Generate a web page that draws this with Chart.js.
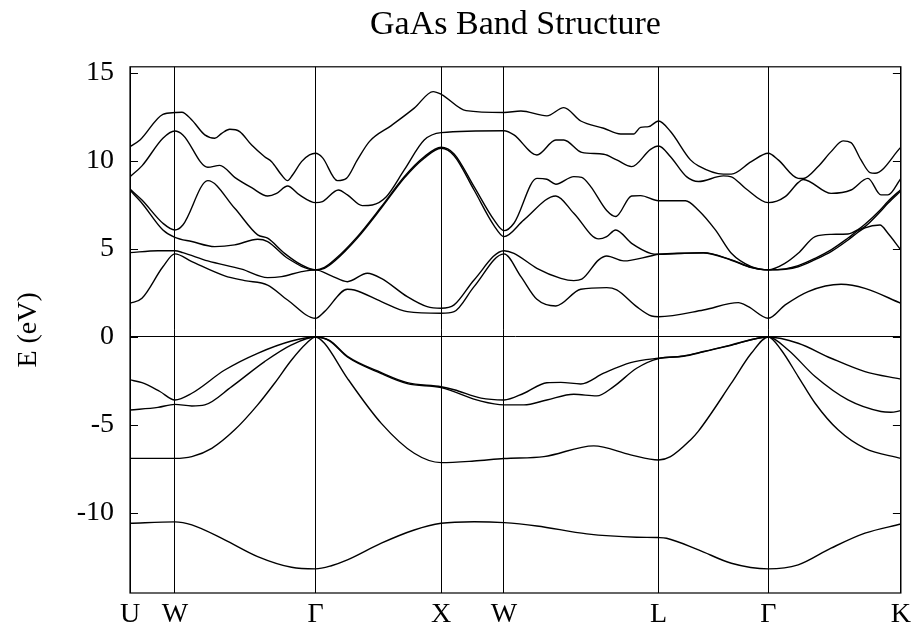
<!DOCTYPE html>
<html>
<head>
<meta charset="utf-8">
<title>GaAs Band Structure</title>
<script src="https://cdn.jsdelivr.net/npm/chart.js@4.4.1/dist/chart.umd.min.js"></script>
<style>
  html, body { margin: 0; padding: 0; background: #fff; }
  #wrap { width: 916px; height: 634px; }
</style>
</head>
<body>
<div id="wrap"><canvas id="bands" width="916" height="634"></canvas></div>
<script>
// high-symmetry points along the path (path length, arb. units)
const kTicks = [0, 45, 186, 312, 375, 530, 640, 773];
const kLabels = ['U', 'W', 'Γ', 'X', 'W', 'L', 'Γ', 'K'];
const eTicks = [-10, -5, 0, 5, 10, 15];

// bands, sorted by energy index: [k, E (eV)]
const band1 = [[0,-10.59],[45,-10.51],[62,-10.68],[95,-11.53],[128,-12.48],[162,-13.09],[186,-13.18],[202,-13.0],[218,-12.67],[252,-11.72],[285,-10.97],[312,-10.59],[345,-10.5],[375,-10.55],[408,-10.74],[458,-11.19],[508,-11.38],[530,-11.4],[538,-11.44],[570,-12.1],[603,-12.86],[640,-13.18],[670,-12.95],[703,-12.0],[737,-11.15],[773,-10.63]];
const band2 = [[0,-6.9],[45,-6.9],[62,-6.8],[82,-6.33],[105,-5.28],[128,-3.86],[145,-2.63],[162,-1.31],[177,-0.36],[186,0],[195,-0.36],[218,-2.35],[252,-4.91],[285,-6.61],[312,-7.14],[345,-7.05],[375,-6.91],[415,-6.8],[465,-6.19],[502,-6.7],[530,-6.99],[542,-6.8],[562,-5.85],[570,-5.35],[603,-2.63],[623,-0.93],[640,0],[653,-0.74],[670,-2.25],[687,-3.77],[710,-5.28],[737,-6.33],[773,-6.9]];
const band3 = [[0,-4.15],[28,-4.0],[45,-3.83],[62,-3.92],[75,-3.86],[102,-2.82],[135,-1.4],[162,-0.45],[186,0],[200,-0.22],[218,-1.14],[252,-2.08],[278,-2.65],[312,-2.88],[352,-3.65],[375,-3.86],[395,-3.86],[418,-3.58],[445,-3.26],[468,-3.35],[485,-2.82],[508,-1.78],[530,-1.23],[555,-1.1],[575,-0.85],[603,-0.47],[640,0],[660,-0.74],[687,-2.25],[720,-3.58],[753,-4.24],[763,-4.28],[773,-4.19]];
const band4 = [[0,-2.44],[12,-2.6],[30,-3.1],[45,-3.58],[62,-3.2],[95,-1.88],[128,-0.93],[162,-0.23],[186,0],[200,-0.2],[218,-1.1],[252,-2.03],[278,-2.6],[312,-2.83],[325,-3.0],[352,-3.48],[375,-3.58],[395,-3.2],[418,-2.6],[432,-2.58],[452,-2.67],[475,-2.06],[502,-1.46],[530,-1.21],[555,-1.08],[575,-0.83],[603,-0.45],[640,0],[670,-0.36],[703,-1.21],[737,-1.97],[773,-2.4]];
const band5 = [[0,1.91],[12,2.2],[33,3.99],[45,4.72],[62,4.28],[95,3.47],[115,3.2],[138,2.95],[158,2.1],[186,1.06],[195,1.44],[218,2.71],[225,2.67],[252,2.01],[278,1.44],[312,1.35],[325,1.44],[345,2.86],[375,4.72],[392,3.43],[408,2.14],[427,1.76],[452,2.71],[478,2.8],[488,2.67],[508,1.72],[523,1.19],[530,1.15],[575,1.53],[610,1.95],[620,1.72],[640,1.06],[657,1.82],[680,2.58],[713,2.99],[737,2.76],[773,1.91]];
const band6 = [[0,4.79],[28,4.9],[45,4.9],[53,4.79],[78,4.32],[112,3.85],[138,3.37],[152,3.43],[172,3.71],[186,3.81],[202,3.47],[218,3.14],[238,3.62],[252,3.33],[278,2.29],[298,1.72],[312,1.63],[325,1.82],[345,3.24],[375,4.9],[385,4.75],[408,3.9],[432,3.33],[445,3.2],[453,3.28],[470,4.38],[478,4.6],[495,4.32],[522,4.6],[530,4.7],[575,4.77],[603,4.36],[623,3.94],[640,3.81],[657,3.85],[670,3.99],[687,4.4],[703,4.85],[720,5.51],[730,5.95],[737,6.2],[752,6.36],[760,5.89],[773,4.94]];
const band7 = [[0,8.33],[12,7.6],[33,6.08],[45,5.66],[62,5.42],[85,5.13],[105,5.23],[128,5.55],[138,5.42],[158,4.47],[186,3.81],[195,3.9],[205,4.3],[228,5.62],[252,7.32],[275,9.03],[295,10.16],[312,10.72],[325,10.3],[345,8.35],[365,6.33],[375,5.7],[395,6.65],[427,8.01],[445,7.03],[470,5.57],[478,5.7],[487,6.08],[503,5.32],[522,4.75],[530,4.7],[575,4.79],[603,4.38],[623,3.96],[640,3.81],[657,3.87],[670,4.05],[687,4.47],[703,4.95],[720,5.62],[730,6.05],[737,6.27],[752,7.1],[760,7.6],[773,8.3]];
const band8 = [[0,8.4],[12,7.78],[33,6.46],[45,6.08],[53,6.36],[78,8.88],[105,7.31],[128,5.8],[138,5.61],[155,4.75],[172,4.09],[186,3.81],[195,3.95],[205,4.38],[228,5.7],[252,7.4],[275,9.11],[295,10.24],[312,10.78],[325,10.4],[345,8.54],[365,6.65],[375,6.04],[385,6.46],[408,9.01],[418,8.96],[427,8.68],[445,9.11],[453,9.07],[462,8.54],[478,7.18],[487,6.84],[503,8.01],[512,8.03],[530,7.74],[557,7.74],[570,7.2],[587,6.08],[603,4.75],[623,3.99],[640,3.81],[657,4.19],[670,4.75],[687,5.7],[703,5.83],[720,5.85],[730,6.1],[737,6.4],[752,7.2],[760,7.7],[773,8.38]];
const band9 = [[0,9.11],[12,9.72],[33,11.29],[45,11.7],[53,11.48],[78,9.64],[90,9.75],[105,9.07],[122,8.48],[138,8.01],[147,8.16],[158,8.58],[170,8.07],[186,7.63],[193,7.69],[209,8.35],[218,8.07],[233,7.46],[243,7.5],[257,7.97],[275,9.49],[295,11.19],[312,11.61],[375,11.72],[385,11.48],[408,10.34],[427,11.19],[435,11.19],[453,10.49],[475,10.38],[488,10.06],[503,9.68],[522,10.66],[530,10.85],[542,10.24],[558,9.11],[570,8.83],[595,9.15],[603,9.1],[617,8.45],[640,7.63],[657,7.97],[670,8.77],[675,8.95],[703,8.16],[723,8.35],[740,9.01],[753,8.07],[760,8.07],[773,9.01]];
const band10 = [[0,10.82],[10,11.19],[33,12.65],[45,12.75],[52,12.77],[62,12.33],[75,11.48],[85,11.29],[92,11.57],[100,11.8],[110,11.67],[122,10.9],[135,10.24],[142,9.96],[152,9.2],[158,8.88],[163,9.2],[172,9.96],[180,10.34],[186,10.44],[193,10.19],[208,8.88],[217,9.01],[228,10.06],[240,11.1],[262,12.01],[285,13.0],[304,13.94],[312,13.79],[337,12.86],[375,12.75],[392,12.84],[418,12.56],[435,13.03],[452,12.27],[475,11.86],[492,11.53],[505,11.53],[512,11.91],[520,11.95],[530,12.27],[542,11.67],[562,10.06],[570,9.72],[595,9.25],[603,9.25],[623,9.96],[640,10.44],[650,10.06],[670,9.01],[675,9.0],[690,9.68],[703,10.53],[715,11.14],[723,11.04],[733,10.06],[742,9.34],[747,9.3],[773,10.78]];

const bands = [band1, band2, band3, band4, band5, band6, band7, band8, band9, band10];

Chart.defaults.font.family = "'Liberation Serif', 'DejaVu Serif', serif";
Chart.defaults.color = '#000';

// box around the plot + short inward ticks on both energy axes
const frame = {
  id: 'frame',
  afterDraw(chart) {
    const { ctx, chartArea: a, scales: { y } } = chart;
    ctx.save();
    ctx.strokeStyle = '#000';
    ctx.lineWidth = 1.2;
    ctx.strokeRect(a.left, a.top, a.right - a.left, a.bottom - a.top);
    ctx.beginPath();
    eTicks.forEach((v) => {
      const py = Math.round(y.getPixelForValue(v)) + 0.5;
      ctx.moveTo(a.left, py); ctx.lineTo(a.left + 8, py);
      ctx.moveTo(a.right, py); ctx.lineTo(a.right - 8, py);
    });
    ctx.stroke();
    ctx.restore();
  },
};

new Chart(document.getElementById('bands'), {
  type: 'scatter',
  data: {
    datasets: bands.map((b, i) => ({
      label: 'band ' + (i + 1),
      data: b.map(([k, e]) => ({ x: k, y: e })),
      showLine: true,
      borderColor: '#000',
      borderWidth: 1.4,
      pointRadius: 0,
      cubicInterpolationMode: 'monotone',
      fill: false,
    })),
  },
  options: {
    responsive: false,
    animation: false,
    layout: { padding: { left: 0, right: 13, top: 0, bottom: 0 } },
    plugins: {
      legend: { display: false },
      tooltip: { enabled: false },
      title: {
        display: true,
        fullSize: false,
        text: 'GaAs Band Structure',
        font: { size: 34, weight: 'normal', lineHeight: 1.2 },
        color: '#000',
        padding: { top: 5, bottom: 21 },
      },
    },
    scales: {
      x: {
        type: 'linear',
        min: kTicks[0],
        max: kTicks[kTicks.length - 1],
        afterBuildTicks: (s) => { s.ticks = kTicks.map((v) => ({ value: v })); },
        afterFit: (s) => { s.height = 41; },
        ticks: {
          autoSkip: false, maxRotation: 0, padding: 5,
          font: { size: 28 },
          callback: (v, i) => kLabels[i],
        },
        grid: { color: '#000', lineWidth: 1, drawTicks: false },
        border: { display: false },
      },
      y: {
        min: -14.55,
        max: 15.35,
        afterBuildTicks: (s) => { s.ticks = eTicks.map((v) => ({ value: v })); },
        afterFit: (s) => { s.width = 130; },
        ticks: { padding: 16, font: { size: 28 } },
        grid: {
          drawTicks: false,
          color: (c) => (c.tick && c.tick.value === 0 ? '#000' : 'rgba(0,0,0,0)'),
          lineWidth: 1,
        },
        border: { display: false },
        title: {
          display: true,
          text: 'E (eV)',
          font: { size: 28 },
          color: '#000',
          padding: { top: 12, bottom: 0 },
        },
      },
    },
  },
  plugins: [frame],
});
</script>
</body>
</html>
